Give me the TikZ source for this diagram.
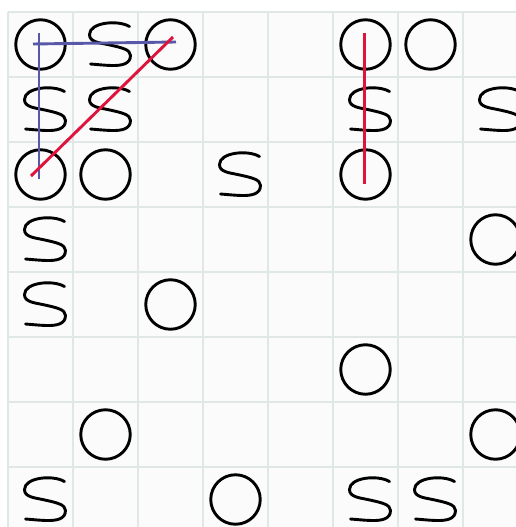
\documentclass[tikz,border=0pt]{standalone}
\definecolor{gridcol}{RGB}{224,232,231}
\definecolor{cellbg}{RGB}{251,251,251}
\definecolor{bluecol}{RGB}{88,88,168}
\definecolor{redcol}{RGB}{222,20,60}
\begin{document}
\begin{tikzpicture}[x=1pt,y=-1pt,
  gridline/.style={draw=gridcol, line width=2pt},
  piece/.style={draw=black, line width=2.9pt},
  ocell/.style={circle, piece, minimum size=49.5pt, inner sep=0pt},
  cell/.style={inner sep=0pt, minimum size=48pt},
  blueline/.style={draw=bluecol, line width=2.9pt},
  redline/.style={draw=redcol, line width=2.9pt},
  sglyph/.pic={\draw[piece, line cap=round]
     (24,-18) .. controls (12,-25) and (-16,-22) .. (-16,-10)
     .. controls (-16,-3) and (-8,-2) .. (2,0)
     .. controls (16,3) and (25,5) .. (25,11)
     .. controls (25,20) and (15,21) .. (8,21)
     .. controls (0,21) and (-8,20) .. (-15,19.5);}
]
\useasboundingbox (0,0) rectangle (516,527);
\begin{scope}
\clip (0,0) rectangle (516,527);
\fill[white] (0,0) rectangle (516,527);
\fill[cellbg] (8,12) rectangle (516,527);
\foreach \k in {0,...,7} {
  \draw[gridline] ({8+65*\k},12) -- ({8+65*\k},527);
  \draw[gridline] (8,{12+65*\k}) -- (516,{12+65*\k});
}
% O pieces (col/row)
\foreach \c/\r in {0/0,2/0,5/0,6/0,0/2,1/2,5/2,7/3,2/4,5/5,1/6,7/6,3/7} {
  \node[ocell] (n\r\c) at ({40.5+65*\c},{44.5+65*\r}) {};
}
% S pieces (col/row)
\foreach \c/\r in {1/0,0/1,1/1,5/1,7/1,3/2,0/3,0/4,0/7,5/7,6/7} {
  \node[cell] (n\r\c) at ({40.5+65*\c},{44.5+65*\r}) {};
  \pic at (n\r\c) {sglyph};
}
% lines
\draw[blueline] ([shift={(-1.5,-11.5)}]n00.center) -- ([shift={(-1.5,4.5)}]n20.center);
\draw[blueline] ([shift={(-7.5,-0.5)}]n00.center) -- ([shift={(5.5,-2.5)}]n02.center);
\draw[redline] ([shift={(-9.5,1.5)}]n20.center) -- ([shift={(2.5,-7.5)}]n02.center);
\draw[redline] ([shift={(-1.2,-11.5)}]n05.center) -- ([shift={(-1.2,9.5)}]n25.center);
\end{scope}
\end{tikzpicture}
\end{document}
